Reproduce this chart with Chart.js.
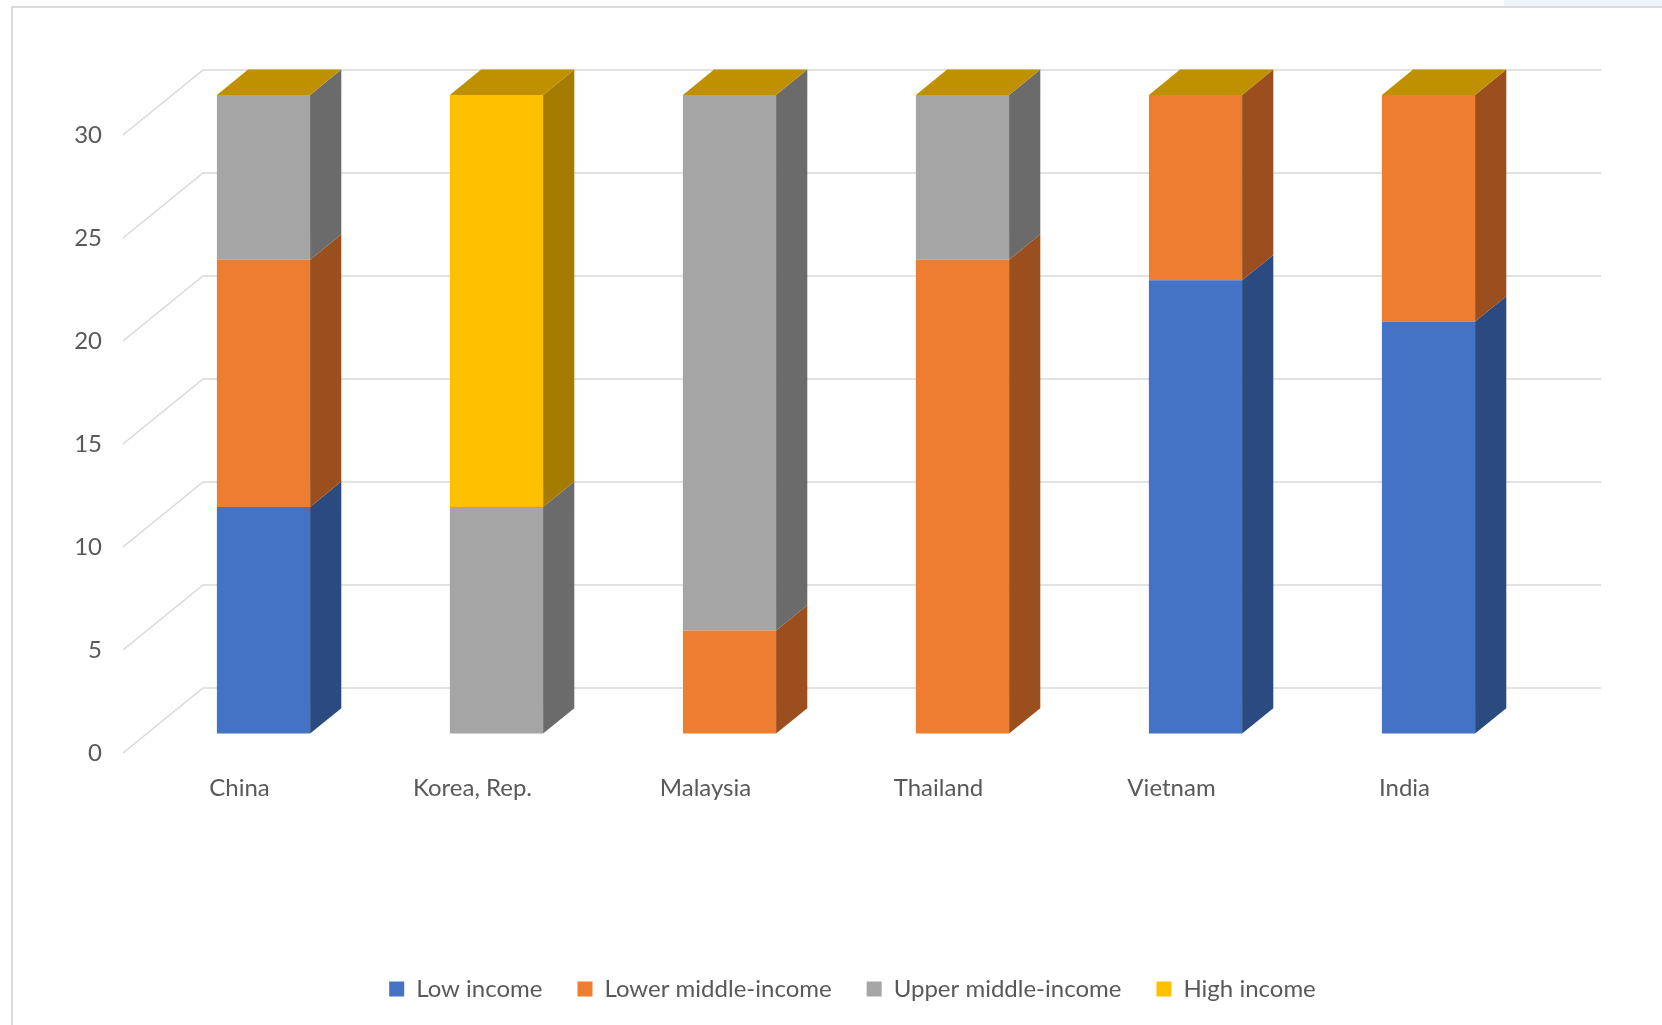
<!DOCTYPE html>
<html lang="en">
<head>
  <meta charset="UTF-8" />
  <title>Income classification by country</title>
  <script src="https://cdn.jsdelivr.net/npm/chart.js"></script>
  <style>
    html, body { margin: 0; padding: 0; background: #fff; }
    #wrap { width: 1662px; height: 1025px; }
  </style>
</head>
<body>
<div id="wrap"><canvas id="incomeChart" width="1662" height="1025"></canvas></div>
<script>
// years spent in each income group
const countries = ["China", "Korea, Rep.", "Malaysia", "Thailand", "Vietnam", "India"];
const lowIncome = [11, 0, 0, 0, 22, 20];
const lowerMiddle = [12, 0, 5, 23, 9, 11];
const upperMiddle = [8, 11, 26, 8, 0, 0];
const highIncome = [0, 20, 0, 0, 0, 0];
const yTicks = [0, 5, 10, 15, 20, 25, 30];

const seriesNames = ["Low income", "Lower middle-income", "Upper middle-income", "High income"];
const frontColors = ["#4472C4", "#ED7D31", "#A5A5A5", "#FFC000"];
const sideColors = ["#2A4A80", "#9B4F1E", "#6B6B6B", "#A67C00"];
const topColor = "#BF9000";

const FONT = { family: "Lato, 'Noto Sans', sans-serif", size: 24 };
const TEXT = "#595959";
const GRID = "#d9d9d9";

// fake 3d: front plane -> back wall offset, bars sit part way in
const depth = { dx: 80, dy: -65 };
const barFront = 0.3;
const barDepth = 0.39;
const legendShift = 92;

const fake3d = {
  id: "fake3d",
  afterLayout(chart) {
    // legend in the original sits right of centre
    chart.legend.left += legendShift;
    chart.legend.right += legendShift;
  },
  beforeDraw(chart) {
    const ctx = chart.ctx;
    ctx.save();
    ctx.fillStyle = "#fff";
    ctx.fillRect(0, 0, chart.width, chart.height);
    ctx.fillStyle = "#eef2fb";
    ctx.fillRect(1504, 0, chart.width - 1504, 6);
    ctx.strokeStyle = GRID;
    ctx.lineWidth = 2;
    ctx.beginPath();
    ctx.moveTo(12, chart.height + 2);
    ctx.lineTo(12, 7);
    ctx.lineTo(chart.width + 2, 7);
    ctx.stroke();
    ctx.restore();
  },
  beforeDatasetsDraw(chart) {
    const { ctx, chartArea: a, scales: { y } } = chart;
    ctx.save();
    ctx.strokeStyle = GRID;
    ctx.lineWidth = 1.5;
    y.ticks.forEach(t => {
      const py = y.getPixelForValue(t.value);
      ctx.beginPath();
      ctx.moveTo(a.left, py);
      ctx.lineTo(a.left + depth.dx, py + depth.dy);
      ctx.lineTo(a.right + depth.dx, py + depth.dy);
      ctx.stroke();
    });
    ctx.restore();
    // bars are drawn a bit behind the front plane
    ctx.save();
    ctx.translate(depth.dx * barFront, depth.dy * barFront);
  },
  afterDatasetsDraw(chart) {
    const ctx = chart.ctx;
    const ox = depth.dx * barDepth, oy = depth.dy * barDepth;
    const last = chart.data.datasets.length - 1;
    chart.data.datasets.forEach((ds, i) => {
      chart.getDatasetMeta(i).data.forEach(bar => {
        const { x, y, base, width } = bar.getProps(["x", "y", "base", "width"], true);
        const l = x - width / 2, r = x + width / 2;
        if (Math.abs(base - y) > 0.5) {
          ctx.fillStyle = sideColors[i];
          ctx.beginPath();
          ctx.moveTo(r, y);
          ctx.lineTo(r + ox, y + oy);
          ctx.lineTo(r + ox, base + oy);
          ctx.lineTo(r, base);
          ctx.closePath();
          ctx.fill();
        }
        if (i === last) {
          ctx.fillStyle = topColor;
          ctx.beginPath();
          ctx.moveTo(l, y);
          ctx.lineTo(l + ox, y + oy);
          ctx.lineTo(r + ox, y + oy);
          ctx.lineTo(r, y);
          ctx.closePath();
          ctx.fill();
        }
      });
    });
    ctx.restore();
  }
};

const seriesData = [lowIncome, lowerMiddle, upperMiddle, highIncome];
const datasets = seriesData.map((d, i) => ({
  label: seriesNames[i],
  data: d,
  backgroundColor: frontColors[i],
  borderWidth: 0,
  clip: false
}));

new Chart(document.getElementById("incomeChart").getContext("2d"), {
  type: "bar",
  data: { labels: countries, datasets },
  options: {
    responsive: false,
    animation: false,
    layout: { padding: { top: 135, right: 141, bottom: 14, left: 0 } },
    datasets: { bar: { categoryPercentage: 1, barPercentage: 0.4 } },
    scales: {
      x: {
        stacked: true,
        grid: { display: false, drawTicks: false },
        border: { display: false },
        ticks: { color: TEXT, font: FONT, padding: 21 },
        afterFit: s => { s.height = 189; }
      },
      y: {
        stacked: true,
        min: 0,
        max: 30,
        grid: { display: false, drawTicks: false },
        border: { display: false },
        ticks: { color: TEXT, font: FONT, padding: 21 },
        afterBuildTicks: s => { s.ticks = yTicks.map(v => ({ value: v })); },
        afterFit: s => { s.width = 123; }
      }
    },
    plugins: {
      legend: {
        position: "bottom",
        labels: { boxWidth: 15, boxHeight: 15, padding: 35, color: TEXT, font: FONT }
      },
      tooltip: { enabled: false }
    }
  },
  plugins: [fake3d]
});
</script>
</body>
</html>
